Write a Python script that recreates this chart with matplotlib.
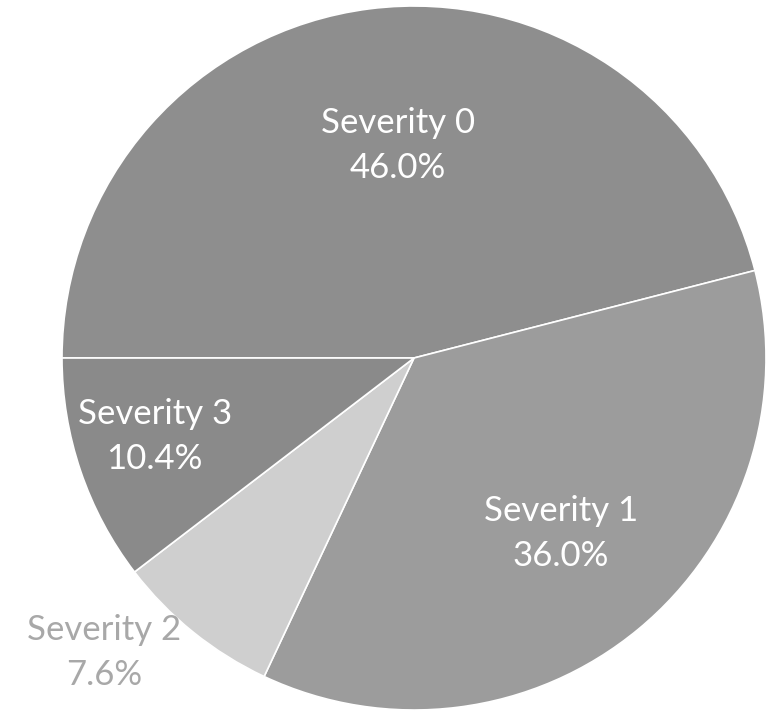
import matplotlib.pyplot as plt
import numpy as np

labels = ["Severity 0", "Severity 1", "Severity 2", "Severity 3"]
shares = [46.0, 36.0, 7.6, 10.4]
colors = ["#8e8e8e", "#9c9c9c", "#cfcfcf", "#8a8a8a"]
text_colors = ["white", "white", "#a8a8a8", "white"]
label_r = [0.604, 0.649, 1.214, 0.77]
label_shift = [-2.9, 0.4, -7.6, -1.8]  # degrees off the wedge middle

fig = plt.figure(figsize=(7.75, 7.14), dpi=100)
ax = fig.add_axes([62 / 775, 4 / 714, 704 / 775, 704 / 714])

wedges, _ = ax.pie(shares, colors=colors, startangle=180, counterclock=False,
                   radius=1, wedgeprops=dict(edgecolor="white", linewidth=1.2))

for w, lab, v, c, r, sh in zip(wedges, labels, shares, text_colors, label_r, label_shift):
    mid = np.deg2rad((w.theta1 + w.theta2) / 2 + sh)
    ax.text(r * np.cos(mid), r * np.sin(mid), f"{lab}\n{v:.1f}%",
            ha="center", va="center", color=c, fontsize=25,
            family="Lato", linespacing=1.5, clip_on=False)

ax.set_xlim(-1, 1)
ax.set_ylim(-1, 1)
ax.axis("off")
fig.savefig("out.png", dpi=100)
